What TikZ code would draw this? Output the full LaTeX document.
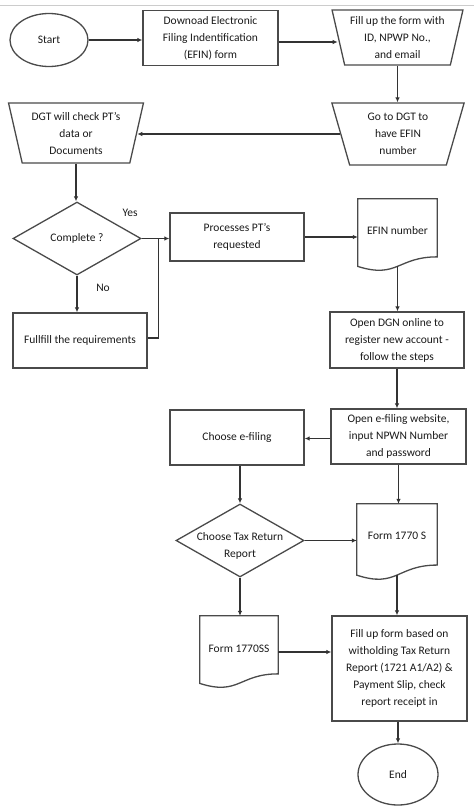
\documentclass[tikz,border=0pt]{standalone}
\usepackage{fontspec}
\setmainfont{Carlito}
\usetikzlibrary{shapes.geometric,arrows.meta,calc}
\definecolor{edge}{HTML}{4A4A4A}
\definecolor{arrc}{HTML}{333333}
\definecolor{txt}{HTML}{1A1A1A}
\definecolor{rule}{HTML}{CCCCCC}
\newcommand{\docoutline}[1]{%
  \draw[edge line] (#1.north west) -- (#1.north east)
    -- ($(#1.north east)!0.802!(#1.south east)$)
    .. controls ($(#1.north)!0.802!(#1.south)$) and ($(#1.north)!1.107!(#1.south)$)
    .. ($(#1.north west)!0.934!(#1.south west)$) -- cycle;
  \coordinate (#1-b) at ($(#1.north)!0.933!(#1.south)$);}
\begin{document}
\begin{tikzpicture}[x=1pt,y=-1pt,
  every node/.style={font=\fontsize{11.5}{17}\selectfont, text=txt},
  edge line/.style={draw=edge, line width=1.3pt},
  boxnode/.style={rectangle, edge line, inner sep=0pt, align=center},
  trapnode/.style={trapezium, trapezium stretches=true, shape border rotate=180,
     trapezium left angle=75, trapezium right angle=75, edge line, inner sep=0pt, align=center},
  ovalnode/.style={ellipse, edge line, inner sep=0pt},
  decnode/.style={diamond, edge line, inner sep=0pt},
  docnode/.style={rectangle, inner sep=0pt},
  arr/.style={draw=arrc, line width=1.6pt, -{Latex[length=5pt,width=4.5pt]}},
  link/.style={draw=arrc, line width=1.6pt},
]
\useasboundingbox (0,0) rectangle (474,806);
\draw[rule, line width=1pt] (0,5) -- (474,5);

\node[ovalnode, minimum width=78pt, minimum height=53pt] (start) at (49,40) {Start};
\node[boxnode, minimum width=135pt, minimum height=55pt] (dl) at (210.5,38)
  {Downoad Electronic\\Filing Indentification\\(EFIN) form};
\node[trapnode, minimum width=131pt, minimum height=55pt] (fill) at (397.5,37.5)
  {Fill up the form with\\ID, NPWP No.,\\and email};
\node[trapnode, minimum width=133pt, minimum height=62pt] (go) at (398,134)
  {Go to DGT to\\have EFIN\\number};
\node[trapnode, minimum width=135pt, minimum height=60pt] (chk) at (76,133)
  {DGT will check PT's\\data or\\Documents};

\node[decnode, minimum width=128pt, minimum height=73pt] (cmp) at (77,238.5) {};
\node (cmpt) at (cmp) {Complete ?};
\node[boxnode, minimum width=134pt, minimum height=48pt] (proc) at (237,237)
  {Processes PT's\\requested};
\node[docnode, minimum width=79pt, minimum height=72pt] (efin) at (397.5,235) {};
\docoutline{efin}
\node (efint) at ($(efin.north)!0.44!(efin.south)$) {EFIN number};
\node[boxnode, minimum width=134pt, minimum height=55pt] (ful) at (80,340.5)
  {Fullfill the requirements};
\node[boxnode, minimum width=134pt, minimum height=56pt] (dgn) at (397,340)
  {Open DGN online to\\register new account -\\follow the steps};
\node (yes) at (130,213) {Yes};
\node (no) at (103,288) {No};

\node[boxnode, minimum width=135pt, minimum height=55pt] (efl) at (398.5,436.5)
  {Open e-filing website,\\input NPWN Number\\and password};
\node[boxnode, minimum width=134pt, minimum height=55pt] (che) at (237,437.5)
  {Choose e-filing};
\node[decnode, minimum width=128pt, minimum height=73pt] (tax) at (240,540.5) {};
\node[align=center] (taxt) at ([yshift=-5pt]tax.center) {Choose Tax Return\\Report};
\node[docnode, minimum width=80pt, minimum height=76pt] (fs) at (397,542) {};
\docoutline{fs}
\node (fst) at ($(fs.north)!0.42!(fs.south)$) {Form 1770 S};
\node[docnode, minimum width=78pt, minimum height=72pt] (fss) at (239,652) {};
\docoutline{fss}
\node (fsst) at ($(fss.north)!0.45!(fss.south)$) {Form 1770SS};
\node[boxnode, minimum width=135pt, minimum height=105pt] (fup) at (399.5,668.5)
  {Fill up form based on\\witholding Tax Return\\Report (1721 A1/A2) \&\\Payment Slip, check\\report receipt in};
\node[ovalnode, minimum width=80pt, minimum height=61pt] (end) at (398,774.5) {End};

% connectors
\draw[arr] (start.east) -- (start.east -| dl.west);
\draw[arr] ([yshift=-4pt]dl.east) -- ([yshift=-4pt]dl.east -| fill.180);
\draw[arr] (fill.270) -- (fill.270 |- go.90);
\draw[arr] (go.180) -- (go.180 -| chk.0);
\draw[arr] (chk.270) -- (chk.270 |- cmp.north);
\draw[arr] (cmp.east) -- (cmp.east -| proc.west);
\draw[arr] (proc.east) -- (proc.east -| efin.west);
\draw[arr] (cmp.south) -- (cmp.south |- ful.north);
\coordinate (j) at ($(ful.east)+(11,-2.5)$);
\draw[link] (ful.east |- j) -- (j) -- (j |- cmp.east);
\draw[arr] (efin-b) -- (efin-b |- dgn.north);
\draw[arr] (dgn.south) -- (dgn.south |- efl.north);
\draw[arr] ([yshift=-2pt]efl.west) -- ([yshift=-2pt]efl.west -| che.east);
\draw[arr] (tax.north |- che.south) -- (tax.north);
\draw[arr] (efl.south) -- (efl.south |- fs.north);
\draw[arr] (tax.east) -- (tax.east -| fs.west);
\draw[arr] (tax.south) -- (tax.south |- fss.north);
\draw[arr] (fss.east) -- (fss.east -| fup.west);
\draw[arr] (fs-b) -- (fs-b |- fup.north);
\draw[arr] (fup.south -| end.north) -- (end.north);
\end{tikzpicture}
\end{document}
